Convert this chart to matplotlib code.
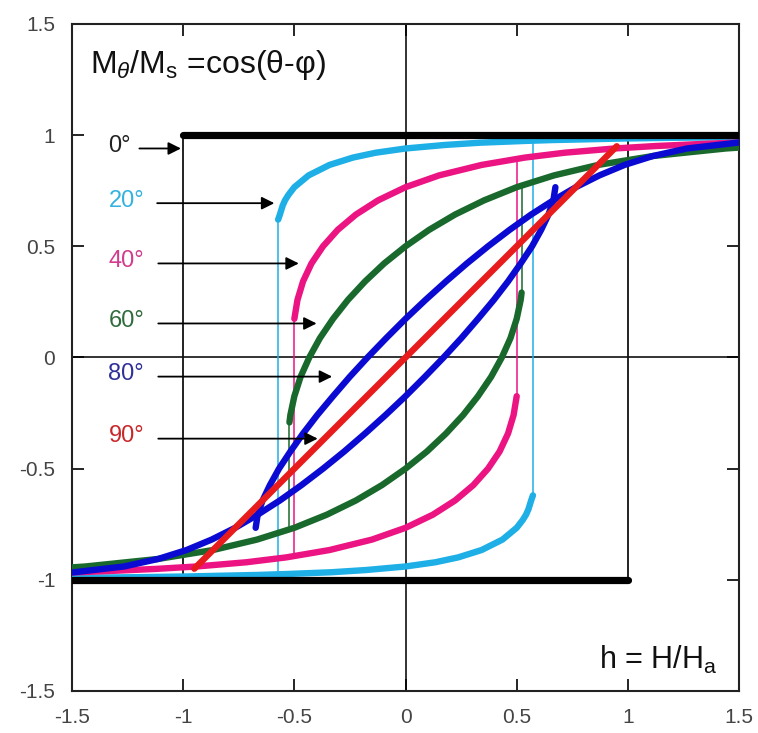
import matplotlib
matplotlib.use("Agg")
import matplotlib.pyplot as plt

plt.rcParams['font.family'] = ['Liberation Sans', 'DejaVu Sans']
plt.rcParams['mathtext.fontset'] = 'custom'
plt.rcParams['mathtext.rm'] = 'Liberation Sans'
plt.rcParams['mathtext.it'] = 'Liberation Sans:italic'

# Stoner-Wohlfarth loops, field h = H/Ha, reduced moment along the field
# upper branch = sweep coming down from +1.5, lower branch = sweep going up from -1.5

# 0 deg (square loop)
h0_up = [1.5, -1.0]
m0_up = [1.0, 1.0]
h0_lo = [-1.5, 1.0]
m0_lo = [-1.0, -1.0]
jump0_h = [-1.0, 1.0]
jump0_from = [1.0, -1.0]
jump0_to = [-1.0, 1.0]

# 20 deg
h20_up = [1.5, 1.197, 0.985, 0.663, 0.538, 0.335, 0.179, 0.0, -0.134, -0.237, -0.342,
          -0.436, -0.5, -0.527, -0.542, -0.553, -0.565, -0.573]
m20_up = [0.991, 0.988, 0.985, 0.978, 0.974, 0.966, 0.956, 0.940, 0.921, 0.899, 0.866,
          0.819, 0.766, 0.731, 0.707, 0.682, 0.643, 0.62]
h20_lo = [-1.5, -1.197, -0.985, -0.663, -0.538, -0.335, -0.179, 0.0, 0.134, 0.237, 0.342,
          0.436, 0.5, 0.527, 0.542, 0.553, 0.565, 0.573]
m20_lo = [-0.991, -0.988, -0.985, -0.978, -0.974, -0.966, -0.956, -0.940, -0.921, -0.899, -0.866,
          -0.819, -0.766, -0.731, -0.707, -0.682, -0.643, -0.62]
jump20_h = [-0.573, 0.573]
jump20_from = [0.62, -0.62]
jump20_to = [-0.976, 0.976]

# 40 deg
h40_up = [1.5, 1.348, 1.124, 0.940, 0.716, 0.536, 0.342, 0.151, 0.0, -0.123, -0.223,
          -0.305, -0.371, -0.423, -0.461, -0.486, -0.5]
m40_up = [0.967, 0.961, 0.951, 0.940, 0.921, 0.899, 0.866, 0.819, 0.766, 0.707, 0.643,
          0.574, 0.5, 0.423, 0.342, 0.259, 0.174]
h40_lo = [-1.5, -1.348, -1.124, -0.940, -0.716, -0.536, -0.342, -0.151, 0.0, 0.123, 0.223,
          0.305, 0.371, 0.423, 0.461, 0.486, 0.5]
m40_lo = [-0.967, -0.961, -0.951, -0.940, -0.921, -0.899, -0.866, -0.819, -0.766, -0.707, -0.643,
          -0.574, -0.5, -0.423, -0.342, -0.259, -0.174]
jump40_h = [-0.5, 0.5]
jump40_from = [0.174, -0.174]
jump40_to = [-0.893, 0.893]

# 60 deg
h60_up = [1.5, 1.44, 1.112, 0.866, 0.668, 0.5, 0.354, 0.223, 0.106, 0.0, -0.096, -0.182,
          -0.259, -0.326, -0.385, -0.433, -0.472, -0.5, -0.518, -0.522]
m60_up = [0.944, 0.940, 0.906, 0.866, 0.819, 0.766, 0.707, 0.643, 0.574, 0.5, 0.423, 0.342,
          0.259, 0.174, 0.087, 0.0, -0.087, -0.174, -0.259, -0.292]
h60_lo = [-1.5, -1.44, -1.112, -0.866, -0.668, -0.5, -0.354, -0.223, -0.106, 0.0, 0.096, 0.182,
          0.259, 0.326, 0.385, 0.433, 0.472, 0.5, 0.518, 0.522]
m60_lo = [-0.944, -0.940, -0.906, -0.866, -0.819, -0.766, -0.707, -0.643, -0.574, -0.5, -0.423, -0.342,
          -0.259, -0.174, -0.087, 0.0, 0.087, 0.174, 0.259, 0.292]
jump60_h = [-0.522, 0.522]
jump60_from = [-0.292, 0.292]
jump60_to = [-0.773, 0.773]

# 80 deg
h80_up = [1.5, 1.266, 1.112, 0.985, 0.872, 0.766, 0.665, 0.565, 0.468, 0.371, 0.276, 0.182,
          0.09, 0.0, -0.087, -0.171, -0.251, -0.326, -0.397, -0.461, -0.518, -0.569, -0.61,
          -0.643, -0.665, -0.674]
m80_up = [0.967, 0.940, 0.906, 0.866, 0.819, 0.766, 0.707, 0.643, 0.574, 0.5, 0.423, 0.342,
          0.259, 0.174, 0.087, 0.0, -0.087, -0.174, -0.259, -0.342, -0.423, -0.5, -0.574,
          -0.643, -0.707, -0.766]
h80_lo = [-1.5, -1.266, -1.112, -0.985, -0.872, -0.766, -0.665, -0.565, -0.468, -0.371, -0.276, -0.182,
          -0.09, 0.0, 0.087, 0.171, 0.251, 0.326, 0.397, 0.461, 0.518, 0.569, 0.61,
          0.643, 0.665, 0.674]
m80_lo = [-0.967, -0.940, -0.906, -0.866, -0.819, -0.766, -0.707, -0.643, -0.574, -0.5, -0.423, -0.342,
          -0.259, -0.174, -0.087, 0.0, 0.087, 0.174, 0.259, 0.342, 0.423, 0.5, 0.574,
          0.643, 0.707, 0.766]
jump80_h = [-0.674, 0.674]
jump80_from = [-0.766, 0.766]
jump80_to = [-0.712, 0.712]

# 90 deg (reversible, m = h)
h90 = [-0.95, 0.95]
m90 = [-0.95, 0.95]

# angle labels and their arrows
angle_labels = ['0°', '20°', '40°', '60°', '80°', '90°']
label_colors = ['#222222', '#33b2e0', '#d23c8c', '#2f6b3c', '#30309a', '#c8282a']
arrow_y = [0.94, 0.694, 0.423, 0.153, -0.086, -0.365]
arrow_x0 = [-1.197, -1.117, -1.112, -1.112, -1.112, -1.112]
arrow_x1 = [-1.01, -0.59, -0.48, -0.40, -0.33, -0.395]

ticks = [-1.5, -1, -0.5, 0, 0.5, 1, 1.5]
tick_labels = ['-1.5', '-1', '-0.5', '0', '0.5', '1', '1.5']

c_cyan = '#1eafe6'
c_mag = '#eb1482'
c_green = '#19692d'
c_blue = '#0a0ad2'
c_red = '#e81c1c'

fig = plt.figure(figsize=(7.58, 7.33), dpi=100)
ax = fig.add_axes([0.095, 0.0573, 0.880, 0.91])

# reference lines through the origin
ax.axhline(0, color='#111111', lw=1.2, zorder=1)
ax.axvline(0, color='#111111', lw=1.2, zorder=1)

lw_thick = 4.6

loops = [
    (h20_up, m20_up, h20_lo, m20_lo, jump20_h, jump20_from, jump20_to, c_cyan, 3),
    (h40_up, m40_up, h40_lo, m40_lo, jump40_h, jump40_from, jump40_to, c_mag, 4),
    (h60_up, m60_up, h60_lo, m60_lo, jump60_h, jump60_from, jump60_to, c_green, 5),
    (h80_up, m80_up, h80_lo, m80_lo, jump80_h, jump80_from, jump80_to, c_blue, 6),
]
for hu, mu, hl, ml, jh, jf, jt, col, z in loops:
    ax.vlines(jh, jf, jt, color=col, lw=1.1, zorder=2)
    ax.plot(hu, mu, color=col, lw=lw_thick, solid_capstyle='round', solid_joinstyle='round', zorder=z)
    ax.plot(hl, ml, color=col, lw=lw_thick, solid_capstyle='round', solid_joinstyle='round', zorder=z)

ax.plot(h90, m90, color=c_red, lw=lw_thick, solid_capstyle='round', zorder=7)

# 0 deg square loop
ax.vlines(jump0_h, jump0_from, jump0_to, color='#111111', lw=1.3, zorder=2)
ax.plot(h0_up, m0_up, color='black', lw=5.2, solid_capstyle='round', zorder=8)
ax.plot(h0_lo, m0_lo, color='black', lw=5.2, solid_capstyle='round', zorder=8)

for lab, col, y, x0, x1 in zip(angle_labels, label_colors, arrow_y, arrow_x0, arrow_x1):
    ax.text(-1.336, y + 0.012, lab, color=col, fontsize=17, ha='left', va='center', zorder=9)
    ax.annotate('', xy=(x1, y), xytext=(x0, y),
                arrowprops=dict(arrowstyle='-|>', color='black', lw=1.3,
                                mutation_scale=19, shrinkA=0, shrinkB=0),
                zorder=9)

ax.text(-1.417, 1.279, r'M$_{\theta}$/M$_{\mathrm{s}}$ =cos(θ-φ)', fontsize=23,
        color='#111111', ha='left', va='baseline')
ax.text(0.87, -1.40, r'h = H/H$_{\mathrm{a}}$', fontsize=22, color='#111111',
        ha='left', va='baseline')

ax.set_xlim(-1.5, 1.5)
ax.set_ylim(-1.5, 1.5)
ax.set_xticks(ticks)
ax.set_xticklabels(tick_labels)
ax.set_yticks(ticks)
ax.set_yticklabels(tick_labels)
ax.tick_params(direction='in', length=8.5, width=1.2, top=True, right=True,
               labelsize=15, labelcolor='#444444', pad=12)
for s in ax.spines.values():
    s.set_linewidth(1.5)
    s.set_color('#222222')

fig.savefig('out.png', dpi=100)
